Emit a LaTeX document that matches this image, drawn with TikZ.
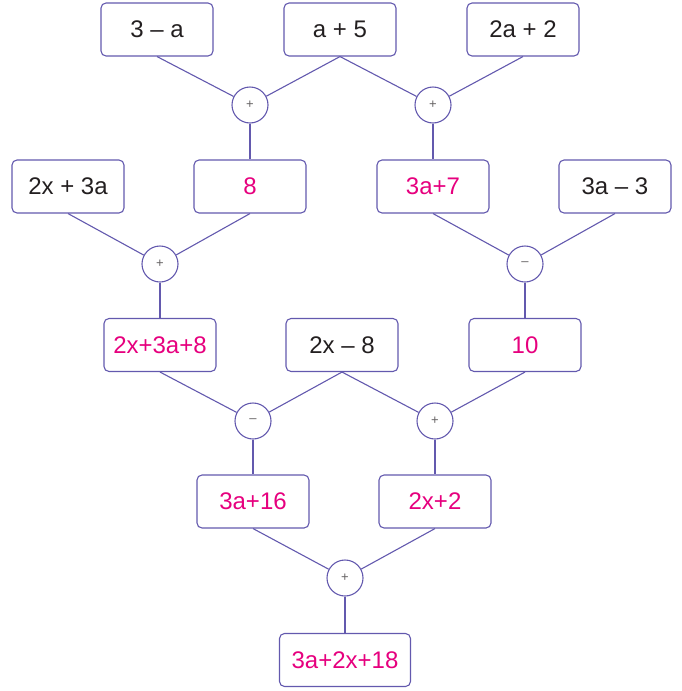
\documentclass[tikz,border=0pt]{standalone}
\usepackage{fontspec}
\setmainfont{Liberation Sans}
\definecolor{edgec}{HTML}{6359AE}
\definecolor{pinkt}{HTML}{E6007E}
\definecolor{darkt}{HTML}{231F20}
\begin{document}
\begin{tikzpicture}[x=1pt,y=-1pt,
  box/.style={draw=edgec, line width=1.1pt, rounded corners=5pt, minimum width=112pt, minimum height=53pt, inner sep=0pt, font=\fontsize{24}{27}\selectfont, text=darkt},
  res/.style={box, text=pinkt},
  op/.style={circle, draw=edgec, line width=1.1pt, minimum size=36pt, inner sep=0pt, font=\fontsize{13}{14}\selectfont, text=darkt!70},
  link/.style={draw=edgec, line width=1.1pt}]
\useasboundingbox (0,0) rectangle (681,691);
% row 1
\node[box] (A) at (157,29.5) {3 – a};
\node[box] (B) at (340,29.5) {a + 5};
\node[box] (C) at (523,29.5) {2a + 2};
\node[op] (o1) at (250,105) {+};
\node[op] (o2) at (433,105) {+};
% row 2
\node[box] (D) at (68,186.5) {2x + 3a};
\node[res] (E) at (250,186.5) {8};
\node[res] (F) at (433,186.5) {3a+7};
\node[box] (G) at (615,186.5) {3a – 3};
\node[op] (o3) at (160,264) {+};
\node[op] (o4) at (525,264) {–};
% row 3
\node[res] (H) at (160,345) {2x+3a+8};
\node[box] (I) at (342,345) {2x – 8};
\node[res] (J) at (525,345) {10};
\node[op] (o5) at (253,421) {–};
\node[op] (o6) at (435,421) {+};
% row 4
\node[res] (K) at (253,501.5) {3a+16};
\node[res] (L) at (435,501.5) {2x+2};
\node[op] (o7) at (345,578) {+};
% row 5
\node[res, minimum width=131pt] (M) at (345,660) {3a+2x+18};
% connectors
\draw[link] (A.south) -- (o1);
\draw[link] (B.south) -- (o1);
\draw[link] (B.south) -- (o2);
\draw[link] (C.south) -- (o2);
\draw[link] (o1.south) -- (E.north);
\draw[link] (o2.south) -- (F.north);
\draw[link] (D.south) -- (o3);
\draw[link] (E.south) -- (o3);
\draw[link] (F.south) -- (o4);
\draw[link] (G.south) -- (o4);
\draw[link] (o3.south) -- (H.north);
\draw[link] (o4.south) -- (J.north);
\draw[link] (H.south) -- (o5);
\draw[link] (I.south) -- (o5);
\draw[link] (I.south) -- (o6);
\draw[link] (J.south) -- (o6);
\draw[link] (o5.south) -- (K.north);
\draw[link] (o6.south) -- (L.north);
\draw[link] (K.south) -- (o7);
\draw[link] (L.south) -- (o7);
\draw[link] (o7.south) -- (M.north);
\end{tikzpicture}
\end{document}
